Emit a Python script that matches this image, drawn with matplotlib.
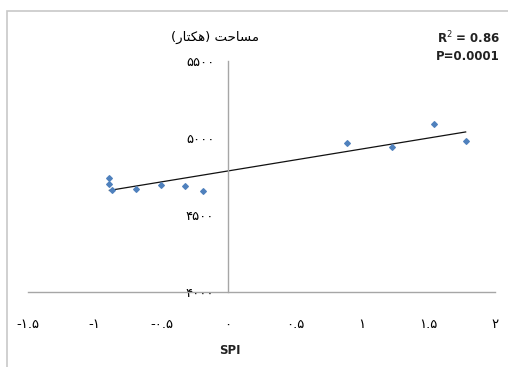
import numpy as np
import matplotlib.pyplot as plt
from matplotlib.patches import Rectangle

# SPI vs cultivated area (hectare)
spi = [-0.89, -0.89, -0.87, -0.69, -0.50, -0.32, -0.19, 0.89, 1.23, 1.54, 1.78]
area = [4741, 4704, 4665, 4671, 4697, 4686, 4656, 4969, 4939, 5093, 4982]

xticks = [-1.5, -1, -0.5, 0, 0.5, 1, 1.5, 2]
xlabels = ['-۱.۵', '-۱', '-۰.۵', '۰', '۰.۵', '۱', '۱.۵', '۲']
yticks = [4000, 4500, 5000, 5500]
ylabels = ['۴۰۰۰', '۴۵۰۰', '۵۰۰۰', '۵۵۰۰']

# presentation forms, visual order (matplotlib has no RTL shaping)
ytitle = '(\uFEAD\uFE8E\uFE98\uFB91\uFEEB) \uFE96\uFEA3\uFE8E\uFEB4\uFEE3'

plt.rcParams['font.family'] = ['DejaVu Sans']

fig = plt.figure(figsize=(5.08, 3.67), dpi=100)
fig.patches.append(Rectangle((7 / 508, -0.1), 1.2, 1 - 11 / 367 + 0.1,
                             transform=fig.transFigure, fill=False,
                             edgecolor='#c8c8c8', linewidth=1.2))
ax = fig.add_axes([28 / 508, 1 - 292 / 367, 467 / 508, 231 / 367])

ax.scatter(spi, area, marker='D', s=8, color='#4f81bd', zorder=3)
k, b = np.polyfit(spi, area, 1)
xs = np.array([min(spi), max(spi)])
ax.plot(xs, k * xs + b, color='#111111', linewidth=0.9, zorder=2)

ax.set_xlim(-1.5, 2)
ax.set_ylim(4000, 5500)
ax.spines['left'].set_position(('data', 0))
ax.spines['right'].set_visible(False)
ax.spines['top'].set_visible(False)
for s in ['left', 'bottom']:
    ax.spines[s].set_color('#a6a6a6')
    ax.spines[s].set_linewidth(1.0)

ax.set_xticks(xticks, xlabels, fontsize=9.5)
ax.set_yticks(yticks, ylabels, fontsize=9.5)
ax.tick_params(axis='x', length=0, pad=19)
ax.tick_params(axis='y', length=0, pad=10)

fig.text(230 / 508, 1 - 350 / 367, 'SPI', fontsize=8.5, fontweight='bold',
         ha='center', va='center', color='#222222')
fig.text(215 / 508, 1 - 37 / 367, ytitle, fontsize=9.5, ha='center', va='center')
fig.text(468 / 508, 1 - 38 / 367, 'R$^2$ = 0.86', fontsize=8.5,
         fontweight='bold', ha='center', va='center', color='#222222')
fig.text(468 / 508, 1 - 57 / 367, 'P=0.0001', fontsize=8.5,
         fontweight='bold', ha='center', va='center', color='#222222')

fig.savefig('out.png', dpi=100)
